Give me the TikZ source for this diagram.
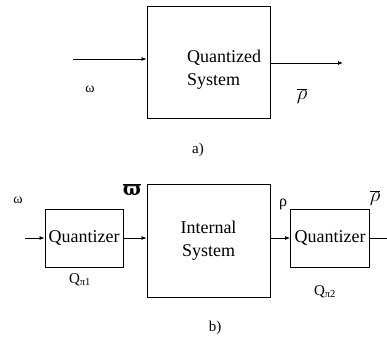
\documentclass[tikz,border=0pt]{standalone}
\usepackage{fontspec}
\setmainfont{Liberation Serif}
\newfontfamily\dvserif{DejaVu Serif}
\usepackage{tikz}
\usetikzlibrary{arrows.meta, positioning, calc}

\begin{document}
\begin{tikzpicture}[
    x=1pt, y=1pt,
    font=\fontsize{18}{23}\selectfont,
    blk/.style={draw, line width=0.9pt, inner sep=0pt},
    arr/.style={-{Latex[length=5pt, width=4pt]}, line width=0.8pt},
    sig/.style={font=\fontsize{14}{16}\selectfont},
    lbl/.style={font=\fontsize{15}{18}\selectfont}
  ]
    \useasboundingbox (0,0) rectangle (387,340);
    % a) quantized system
    \node[blk, minimum width=123, minimum height=112] (qsys) at (208.5,278) {};
    \node[align=left, inner sep=0pt] (qtxt) at (224,270) {Quantized\\System};
    \coordinate (ain) at (73,281);
    \coordinate (aout) at (343,277);
    \draw[arr] (ain) -- (ain -| qsys.west);
    \draw[arr] (aout -| qsys.east) -- (aout);
    \node[sig] (aw) at (90,251) {ω};
    \node[font=\fontsize{20}{22}\selectfont] (arho) at (302,244) {$\overline{\rho}$};
    \node[lbl] (la) at (198,190) {a)};

    % b) quantizer - internal system - quantizer
    \node[blk, minimum width=78, minimum height=58] (q1) at (84,102) {Quantizer};
    \node[blk, minimum width=123, minimum height=113, align=center] (isys) at (208.5,99.5) {Internal\\System};
    \node[blk, minimum width=79, minimum height=58] (q2) at (330,102) {Quantizer};
    \coordinate (bin) at (25,102);
    \coordinate (bout) at (387,102);
    \draw[arr] (bin) -- (q1.west);
    \draw[arr] (q1.east) -- (q1.east -| isys.west);
    \draw[arr] (q2.west -| isys.east) -- (q2.west);
    \draw[line width=0.8pt] (q2.east) -- (bout);
    \node[sig] (bw) at (18,140) {ω};
    \node[font=\fontsize{19}{21}\selectfont] (bwq) at (132,150) {$\overline{\hbox{\dvserif\bfseries ϖ}}$};
    \node[font=\fontsize{16}{18}\selectfont] (brho) at (283,136) {ρ};
    \node[font=\fontsize{20}{22}\selectfont] (brq) at (375,142) {$\overline{\rho}$};
    \node[lbl] (lq1) at (80,60) {Q\textsubscript{π1}};
    \node[lbl] (lq2) at (325,48) {Q\textsubscript{π2}};
    \node[lbl] (lb) at (215,12) {b)};
  \end{tikzpicture}
\end{document}
